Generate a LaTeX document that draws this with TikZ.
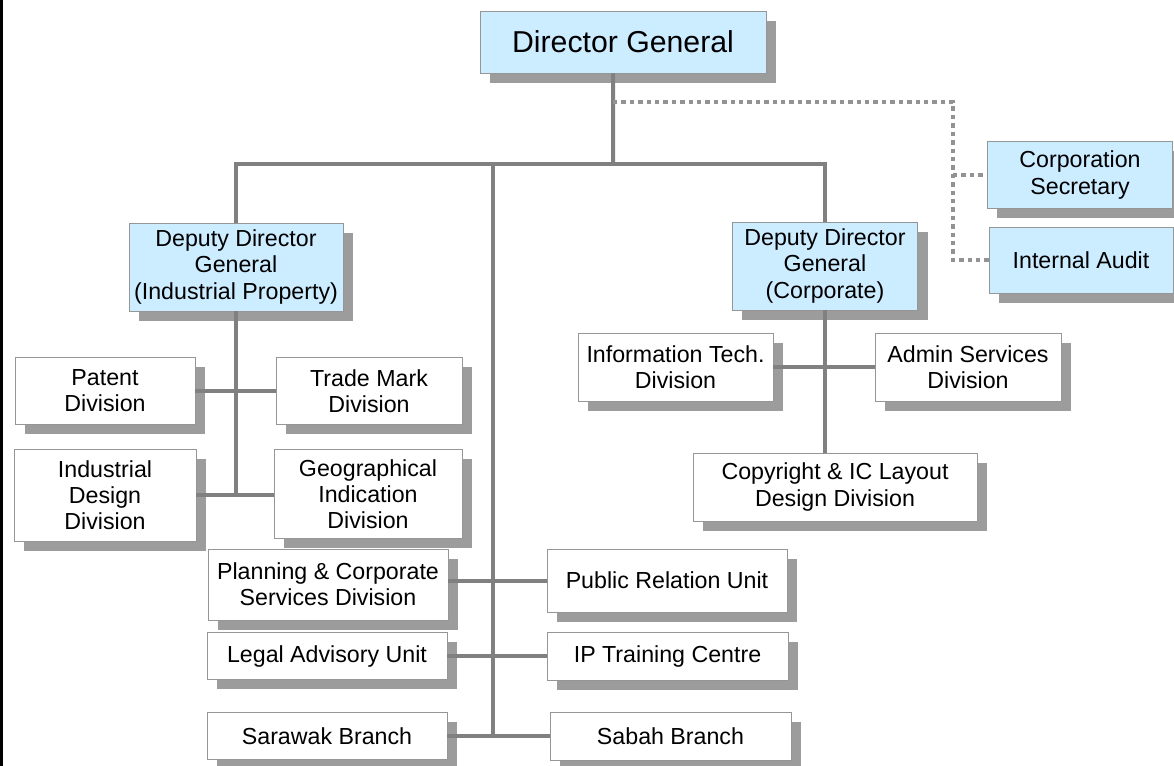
\documentclass[tikz,border=0pt]{standalone}
\usepackage{fontspec}
\setmainfont{Liberation Sans}
\usetikzlibrary{shadows}
\definecolor{paleblue}{RGB}{204, 236, 255}
\definecolor{boxline}{RGB}{150, 150, 150}
\definecolor{shadowgray}{RGB}{156, 156, 156}
\definecolor{linkgray}{RGB}{128, 128, 128}
\tikzset{
    unit/.style = {rectangle, draw=boxline, fill=white, line width=0.6pt, align=center, inner sep=1pt, font=\fontsize{16.5}{18.5}\selectfont, drop shadow={shadow xshift=0.25cm, shadow yshift=-0.24cm, fill=shadowgray, opacity=1}},
    head/.style = {unit, fill=paleblue},
    link/.style = {draw=linkgray, line width=0.1cm},
    stafflink/.style = {draw=linkgray!85, line width=0.1cm, dash pattern=on 0.11cm off 0.1cm}
}

\begin{document}
\begin{tikzpicture}[x=0.025cm, y=-0.025cm]
\useasboundingbox (0,0) rectangle (1174,766);
\fill[black] (0,0) rectangle (3,766);

\node (dg) [head, minimum width=7.15cm, minimum height=1.55cm, font=\fontsize{21.5}{25}\selectfont] at (623,42) {Director General};
\node (cs) [head, minimum width=4.625cm, minimum height=1.675cm] at (1080,175) {Corporation\\Secretary};
\node (ia) [head, minimum width=4.6cm, minimum height=1.65cm] at (1081,260) {Internal Audit};
\node (ddgip) [head, minimum width=5.35cm, minimum height=2.2cm] at (236,267) {Deputy Director\\General\\(Industrial Property)};
\node (ddgc) [head, minimum width=4.625cm, minimum height=2.2cm] at (825,266) {Deputy Director\\General\\(Corporate)};

\node (patent) [unit, minimum width=4.5cm, minimum height=1.675cm] at (105,391) {Patent\\Division};
\node (tm) [unit, minimum width=4.65cm, minimum height=1.675cm] at (369,391) {Trade Mark\\Division};
\node (idd) [unit, minimum width=4.55cm, minimum height=2.3cm] at (105,495) {Industrial\\Design\\Division};
\node (gi) [unit, minimum width=4.7cm, minimum height=2.225cm] at (368,494) {Geographical\\Indication\\Division};

\node (it) [unit, minimum width=4.875cm, minimum height=1.7cm] at (675.5,367) {Information Tech.\\Division};
\node (admin) [unit, minimum width=4.65cm, minimum height=1.7cm] at (968,367) {Admin Services\\Division};
\node (copy) [unit, minimum width=7.1cm, minimum height=1.7cm] at (835,487) {Copyright \& IC Layout\\Design Division};

\node (plan) [unit, minimum width=6cm, minimum height=1.775cm] at (328,584.5) {Planning \& Corporate\\Services Division};
\node (pr) [unit, minimum width=6cm, minimum height=1.575cm] at (667,580.5) {Public Relation Unit};
\node (legal) [unit, minimum width=6cm, minimum height=1.175cm] at (327,656) {Legal Advisory Unit};
\node (ipt) [unit, minimum width=6.025cm, minimum height=1.2cm] at (667.5,656) {IP Training Centre};
\node (sarawak) [unit, minimum width=6cm, minimum height=1.175cm] at (327,736) {Sarawak Branch};
\node (sabah) [unit, minimum width=6.025cm, minimum height=1.2cm] at (670.5,736) {Sabah Branch};

\coordinate (dgfoot) at ([xshift=-0.25cm]dg.south);
\coordinate (bus) at (613,164);
\coordinate (staffout) at (613,102);
\coordinate (staffdrop) at (953,102);
\coordinate (spine) at (493,164);

\draw [link] (dgfoot) -- (bus);
\draw [link] (ddgip.north) |- (bus) -| (ddgc.north);
\draw [link] (spine) -- (spine |- sarawak.east);
\draw [stafflink] (staffout) -- (staffdrop) |- (ia.west);
\draw [stafflink] (staffdrop |- cs.west) -- (cs.west);

\draw [link] (ddgip.south) -- (ddgip.south |- idd.east);
\draw [link] (patent.east) -- (tm.west);
\draw [link] (idd.east) -- (idd.east -| gi.west);
\draw [link] (ddgc.south) -- (ddgc.south |- copy.north);
\draw [link] (it.east) -- (admin.west);
\draw [link] (plan.east |- pr.west) -- (pr.west);
\draw [link] (legal.east) -- (ipt.west);
\draw [link] (sarawak.east) -- (sabah.west);
\end{tikzpicture}
\end{document}
